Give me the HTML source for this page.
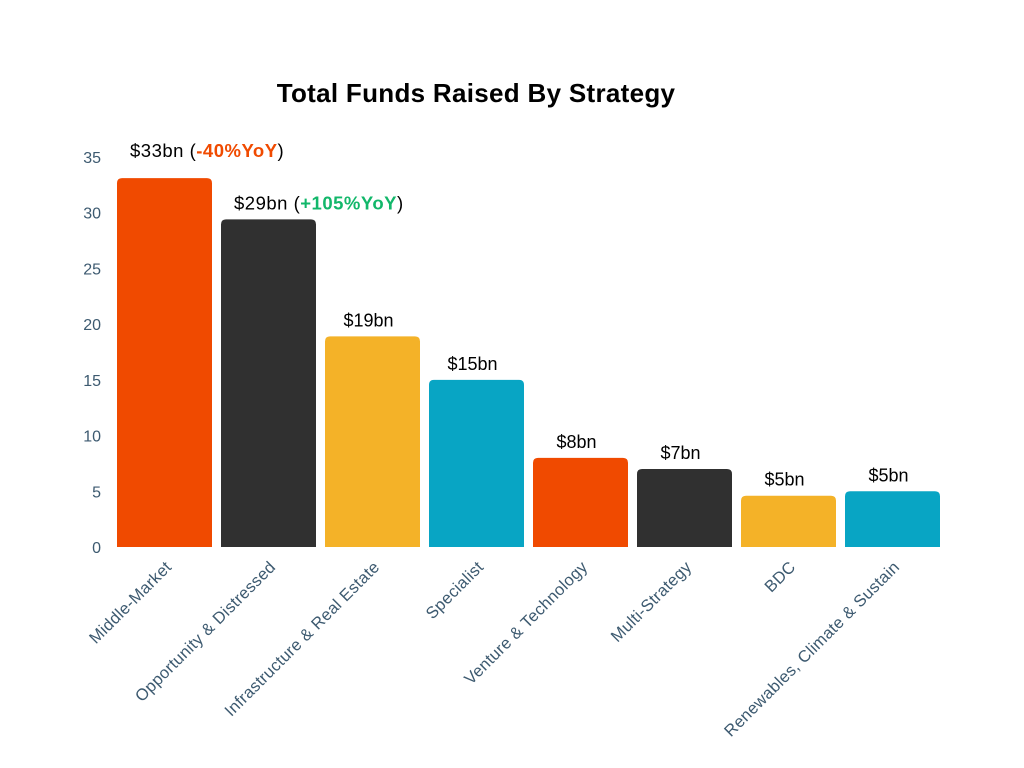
<!DOCTYPE html>
<html><head><meta charset="utf-8"><style>
body{margin:0;background:#fff;}
svg{display:block;font-family:"Liberation Sans",sans-serif;}
</style></head><body>
<svg width="1024" height="768">
<text x="476" y="102" text-anchor="middle" font-size="26" font-weight="bold" letter-spacing="0.3" fill="#000">Total Funds Raised By Strategy</text>
<g id="yaxis"></g>
<g id="bars"></g>
<g id="xlabels"></g>
</svg>
<script>
const categories=["Middle-Market","Opportunity & Distressed","Infrastructure & Real Estate","Specialist","Venture & Technology","Multi-Strategy","BDC","Renewables, Climate & Sustain"];
const values=[33.1,29.4,18.9,15,8,7,4.6,5];
const valueLabels=["$33bn","$29bn","$19bn","$15bn","$8bn","$7bn","$5bn","$5bn"];
const yoyLabels=["-40%YoY","+105%YoY","","","","","",""];
const yoyColors=["#f04a00","#12b76a","","","","","",""];
const colors=["#f04a00","#303030","#f4b228","#08a5c4","#f04a00","#303030","#f4b228","#08a5c4"];
const yTicks=[0,5,10,15,20,25,30,35];
const NS="http://www.w3.org/2000/svg";
const y0=547,pxPer=390/35,bx0=117,step=104,bw=95;
const Y=v=>y0-v*pxPer, X=i=>bx0+i*step;
function mk(t,a,p){const e=document.createElementNS(NS,t);for(const k in a)e.setAttribute(k,a[k]);p.appendChild(e);return e;}
const ya=document.getElementById('yaxis'),bars=document.getElementById('bars'),xl=document.getElementById('xlabels');
yTicks.forEach(t=>{const e=mk('text',{x:101,y:Y(t)+6,'text-anchor':'end','font-size':16,fill:'#3d5a70'},ya);e.textContent=t;

});
values.forEach((v,i)=>{
 const x=X(i),y=Y(v),r=5;
 const p=mk('path',{d:`M${x},${y0}V${y+r}Q${x},${y} ${x+r},${y}H${x+bw-r}Q${x+bw},${y} ${x+bw},${y+r}V${y0}Z`,fill:colors[i]},bars);
 
 
 let t;
 if(yoyLabels[i]){
  t=mk('text',{x:x+13,y:i===0?y-21:y-10,'font-size':18.5,'letter-spacing':'0.5',fill:'#000'},bars);
  t.appendChild(document.createTextNode(valueLabels[i]+' ('));
  const s=mk('tspan',{fill:yoyColors[i],'font-weight':'bold'},t);s.textContent=yoyLabels[i];
  t.appendChild(document.createTextNode(')'));
 } else {
  t=mk('text',{x:x+bw/2-4,y:y-10,'text-anchor':'middle','font-size':18,fill:'#000'},bars);
  t.textContent=valueLabels[i];
 }
 
 
 const cx=x+bw/2+8,cy=568;
 const l=mk('text',{x:cx,y:cy,'text-anchor':'end','font-size':16.5,'letter-spacing':'0.3',fill:'#3d5a70',transform:`rotate(-45 ${cx} ${cy})`},xl);
 l.textContent=categories[i];
 
 
});
</script>
</body></html>
